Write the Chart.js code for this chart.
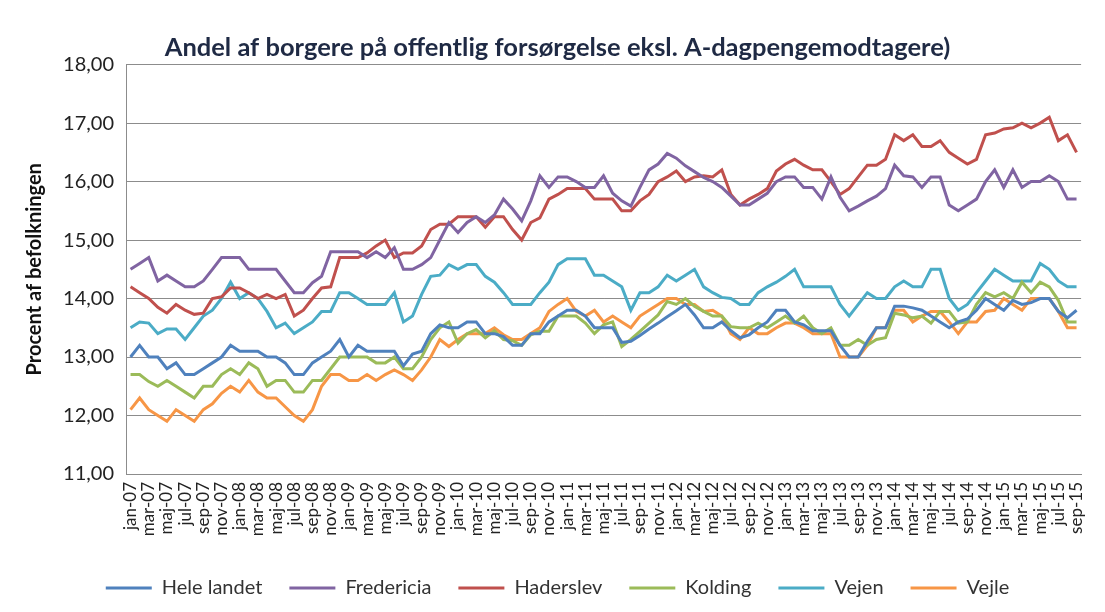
<!DOCTYPE html>
<html lang="da">
<head>
<meta charset="utf-8">
<title>Andel af borgere på offentlig forsørgelse</title>
<script src="https://cdn.jsdelivr.net/npm/chart.js@4.4.1/dist/chart.umd.min.js"></script>
<style>
    html, body { margin: 0; padding: 0; background: #ffffff; }
    #wrap { width: 1105px; height: 612px; position: relative; }
</style>
</head>
<body>
<div id="wrap"><canvas id="forsorgelseChart"></canvas></div>
<script>
// Kategorier: måneder jan-07 .. sep-15
const monthNames = ['jan', 'feb', 'mar', 'apr', 'maj', 'jun', 'jul', 'aug', 'sep', 'okt', 'nov', 'dec'];
const years = ['07', '08', '09', '10', '11', '12', '13', '14', '15'];
const lastYearMonths = 9;

const yTicks = [11, 12, 13, 14, 15, 16, 17, 18];

// Serier (procent af befolkningen)
const heleLandet = [
    13.0, 13.2, 13.0, 13.0, 12.8, 12.9, 12.7, 12.7, 12.8, 12.9, 13.0, 13.2, 13.1, 13.1, 13.1, 13.0, 13.0, 12.9,
    12.7, 12.7, 12.9, 13.0, 13.1, 13.3, 13.0, 13.2, 13.1, 13.1, 13.1, 13.1, 12.85, 13.05, 13.1, 13.4, 13.55,
    13.5, 13.5, 13.6, 13.6, 13.4, 13.4, 13.35, 13.2, 13.2, 13.4, 13.4, 13.6, 13.7, 13.8, 13.8, 13.7, 13.5, 13.5,
    13.5, 13.25, 13.27, 13.37, 13.48, 13.58, 13.69, 13.79, 13.9, 13.72, 13.5, 13.5, 13.6, 13.45, 13.33, 13.38, 13.5,
    13.6, 13.8, 13.8, 13.6, 13.55, 13.45, 13.45, 13.45, 13.2, 13.0, 13.0, 13.27, 13.5, 13.5, 13.87, 13.87, 13.84,
    13.8, 13.7, 13.6, 13.5, 13.6, 13.65, 13.8, 14.0, 13.9, 13.8, 13.97, 13.9, 13.93, 14.0, 14.0, 13.78, 13.67, 13.8
];
const fredericia = [
    14.5, 14.6, 14.7, 14.3, 14.4, 14.3, 14.2, 14.2, 14.3, 14.5, 14.7, 14.7, 14.7, 14.5, 14.5, 14.5, 14.5, 14.3,
    14.1, 14.1, 14.27, 14.38, 14.8, 14.8, 14.8, 14.8, 14.7, 14.8, 14.7, 14.87, 14.5, 14.5, 14.58, 14.7, 15.0,
    15.3, 15.13, 15.3, 15.4, 15.3, 15.43, 15.7, 15.53, 15.33, 15.67, 16.1, 15.9, 16.08, 16.08, 16.0, 15.9, 15.9, 16.1,
    15.8, 15.67, 15.58, 15.9, 16.2, 16.3, 16.48, 16.4, 16.27, 16.17, 16.07, 16.0, 15.9, 15.75, 15.6, 15.6, 15.7,
    15.8, 16.0, 16.08, 16.08, 15.9, 15.9, 15.7, 16.08, 15.73, 15.5, 15.58, 15.67, 15.75, 15.88, 16.28, 16.1, 16.08,
    15.9, 16.08, 16.08, 15.6, 15.5, 15.6, 15.7, 16.0, 16.2, 15.9, 16.2, 15.9, 16.0, 16.0, 16.1, 16.0, 15.7, 15.7
];
const haderslev = [
    14.2, 14.1, 14.0, 13.85, 13.75, 13.9, 13.8, 13.73, 13.75, 14.0, 14.03, 14.18, 14.18, 14.1, 14.0, 14.07, 14.0, 14.07,
    13.7, 13.8, 14.0, 14.18, 14.2, 14.7, 14.7, 14.7, 14.78, 14.9, 15.0, 14.7, 14.78, 14.78, 14.9, 15.18, 15.27,
    15.27, 15.4, 15.4, 15.4, 15.22, 15.4, 15.4, 15.18, 15.0, 15.3, 15.38, 15.7, 15.78, 15.88, 15.88, 15.88, 15.7, 15.7,
    15.7, 15.5, 15.5, 15.67, 15.78, 16.0, 16.08, 16.18, 16.0, 16.08, 16.1, 16.08, 16.2, 15.78, 15.6, 15.7, 15.78,
    15.88, 16.18, 16.3, 16.38, 16.28, 16.2, 16.2, 16.0, 15.78, 15.88, 16.08, 16.28, 16.28, 16.38, 16.8, 16.7, 16.8,
    16.6, 16.6, 16.7, 16.5, 16.4, 16.3, 16.38, 16.8, 16.83, 16.9, 16.92, 17.0, 16.92, 17.0, 17.1, 16.7, 16.8, 16.5
];
const kolding = [
    12.7, 12.7, 12.58, 12.5, 12.6, 12.5, 12.4, 12.3, 12.5, 12.5, 12.7, 12.8, 12.7, 12.9, 12.8, 12.5, 12.6, 12.6,
    12.4, 12.4, 12.6, 12.6, 12.8, 13.0, 13.0, 13.0, 13.0, 12.9, 12.9, 13.0, 12.8, 12.8, 13.0, 13.3, 13.5,
    13.6, 13.24, 13.4, 13.47, 13.33, 13.45, 13.3, 13.28, 13.2, 13.38, 13.44, 13.44, 13.7, 13.7, 13.7, 13.58, 13.4, 13.55,
    13.6, 13.18, 13.3, 13.44, 13.58, 13.72, 13.95, 13.9, 14.0, 13.87, 13.78, 13.7, 13.7, 13.52, 13.5, 13.5, 13.58,
    13.5, 13.6, 13.7, 13.58, 13.7, 13.5, 13.4, 13.5, 13.2, 13.2, 13.3, 13.2, 13.3, 13.33, 13.75, 13.72, 13.67,
    13.7, 13.58, 13.78, 13.78, 13.58, 13.6, 13.9, 14.1, 14.03, 14.1, 14.0, 14.28, 14.1, 14.28, 14.2, 13.97, 13.6, 13.6
];
const vejen = [
    13.5, 13.6, 13.58, 13.4, 13.48, 13.48, 13.3, 13.5, 13.7, 13.8, 14.0, 14.28, 14.0, 14.1, 14.0, 13.78, 13.5, 13.58,
    13.4, 13.5, 13.6, 13.78, 13.78, 14.1, 14.1, 14.0, 13.9, 13.9, 13.9, 14.1, 13.6, 13.7, 14.07, 14.38, 14.4,
    14.58, 14.5, 14.58, 14.58, 14.38, 14.28, 14.1, 13.9, 13.9, 13.9, 14.1, 14.28, 14.58, 14.68, 14.68, 14.68, 14.4, 14.4,
    14.3, 14.2, 13.8, 14.1, 14.1, 14.2, 14.4, 14.3, 14.4, 14.5, 14.2, 14.1, 14.02, 14.0, 13.9, 13.9, 14.1,
    14.2, 14.28, 14.38, 14.5, 14.2, 14.2, 14.2, 14.2, 13.9, 13.7, 13.9, 14.1, 14.0, 14.0, 14.2, 14.3, 14.2,
    14.2, 14.5, 14.5, 14.0, 13.8, 13.9, 14.1, 14.3, 14.5, 14.4, 14.3, 14.3, 14.3, 14.6, 14.5, 14.3, 14.2, 14.2
];
const vejle = [
    12.1, 12.3, 12.1, 12.0, 11.9, 12.1, 12.0, 11.9, 12.1, 12.2, 12.38, 12.5, 12.4, 12.6, 12.4, 12.3, 12.3, 12.15,
    12.0, 11.9, 12.1, 12.5, 12.7, 12.7, 12.6, 12.6, 12.7, 12.6, 12.7, 12.78, 12.7, 12.6, 12.78, 13.0, 13.3,
    13.18, 13.3, 13.4, 13.4, 13.4, 13.5, 13.38, 13.3, 13.3, 13.4, 13.5, 13.78, 13.9, 14.0, 13.78, 13.7, 13.8, 13.6,
    13.7, 13.6, 13.5, 13.7, 13.8, 13.9, 14.0, 14.0, 13.9, 13.9, 13.78, 13.8, 13.7, 13.4, 13.3, 13.5, 13.4,
    13.4, 13.5, 13.58, 13.58, 13.5, 13.4, 13.4, 13.4, 13.0, 13.0, 13.0, 13.2, 13.5, 13.5, 13.8, 13.8, 13.6,
    13.7, 13.78, 13.78, 13.6, 13.4, 13.6, 13.6, 13.78, 13.8, 14.0, 13.9, 13.8, 14.0, 14.0, 14.0, 13.78, 13.5, 13.5
];

// Byg kategori-labels
const labels = [];
years.forEach((yy, yi) => {
    const count = yi === years.length - 1 ? lastYearMonths : 12;
    for (let m = 0; m < count; m++) {
        labels.push(monthNames[m] + '-' + yy);
    }
});

function makeSeries(label, data, color) {
    return {
        label: label,
        data: data,
        borderColor: color,
        backgroundColor: color,
        borderWidth: 3,
        pointRadius: 0,
        pointHoverRadius: 0,
        tension: 0,
        fill: false
    };
}

const FONT = 'Lato, "Open Sans", sans-serif';

const ctx = document.getElementById('forsorgelseChart');
new Chart(ctx, {
    type: 'line',
    data: {
        labels: labels,
        datasets: [
            makeSeries('Hele landet', heleLandet, '#4F81BD'),
            makeSeries('Fredericia', fredericia, '#8064A2'),
            makeSeries('Haderslev', haderslev, '#C0504D'),
            makeSeries('Kolding', kolding, '#9BBB59'),
            makeSeries('Vejen', vejen, '#4BACC6'),
            makeSeries('Vejle', vejle, '#F79646')
        ]
    },
    options: {
        responsive: true,
        maintainAspectRatio: false,
        animation: false,
        layout: { padding: { left: 20, right: 10, top: 32, bottom: 4 } },
        plugins: {
            title: {
                display: true,
                text: 'Andel af borgere på offentlig forsørgelse eksl. A-dagpengemodtagere)',
                color: '#1F2A44',
                font: { family: FONT, size: 25.5, weight: 'bold' },
                padding: { top: 0, bottom: 2 }
            },
            legend: {
                position: 'bottom',
                labels: {
                    color: '#333333',
                    font: { family: FONT, size: 20 },
                    boxWidth: 46,
                    boxHeight: 3,
                    padding: 27,
                    generateLabels: function (chart) {
                        const items = Chart.defaults.plugins.legend.labels.generateLabels(chart);
                        items.forEach(item => { item.lineWidth = 0; });
                        return items;
                    }
                }
            },
            tooltip: { enabled: false }
        },
        scales: {
            x: {
                offset: true,
                grid: { display: false, drawTicks: false },
                border: { display: true, color: '#8c8c8c', width: 1 },
                ticks: {
                    autoSkip: false,
                    maxRotation: 90,
                    minRotation: 90,
                    padding: 8,
                    color: '#222222',
                    font: { family: FONT, size: 17 },
                    callback: function (value, index) {
                        return index % 2 === 0 ? labels[index] : '';
                    }
                },
                afterFit: function (scale) { scale.height = 77; }
            },
            y: {
                min: yTicks[0],
                max: yTicks[yTicks.length - 1],
                grid: { color: '#8c8c8c', drawTicks: false },
                border: { display: true, color: '#8c8c8c', width: 1 },
                ticks: {
                    stepSize: 1,
                    padding: 12,
                    color: '#222222',
                    font: { family: FONT, size: 20 },
                    callback: function (value) {
                        return value.toFixed(2).replace('.', ',');
                    }
                },
                title: {
                    display: true,
                    text: 'Procent af befolkningen',
                    color: '#111111',
                    font: { family: FONT, size: 20, weight: 'bold' },
                    padding: { top: 3, bottom: 0 }
                },
                afterFit: function (scale) { scale.width = 106; }
            }
        }
    }
});
</script>
</body>
</html>
